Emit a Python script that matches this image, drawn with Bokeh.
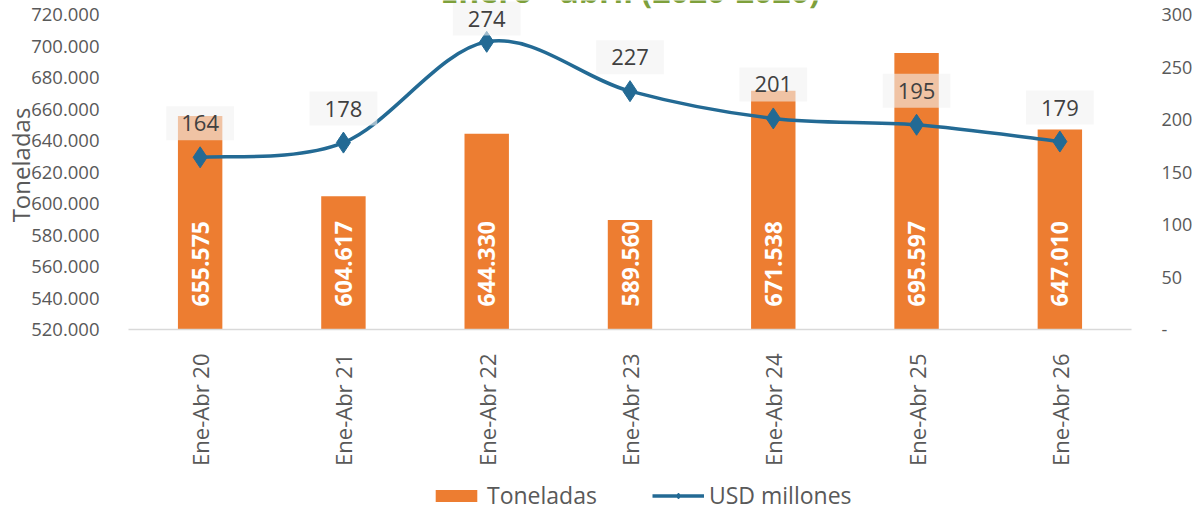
import math
from bokeh.plotting import figure
from bokeh.layouts import column
from bokeh.models import Range1d, LinearAxis, FixedTicker, Legend, LegendItem, Label
from bokeh.core.properties import value
from bokeh.embed import file_html
from bokeh.resources import INLINE

# ---- data ----
categories = ["Ene-Abr 20", "Ene-Abr 21", "Ene-Abr 22", "Ene-Abr 23", "Ene-Abr 24", "Ene-Abr 25", "Ene-Abr 26"]
toneladas = [655575, 604617, 644330, 589560, 671538, 695597, 647010]
usd_millones = [164, 178, 274, 227, 201, 195, 179]
left_ticks = [520000, 540000, 560000, 580000, 600000, 620000, 640000, 660000, 680000, 700000, 720000]
right_ticks = [0, 50, 100, 150, 200, 250, 300]
title_text = "Enero - abril (2020-2026)"

def fmt_es(v):
    return f"{v:,}".replace(",", ".")

ton_labels = [fmt_es(v) for v in toneladas]
usd_labels = [str(v) for v in usd_millones]
left_tick_labels = {t: fmt_es(t) for t in left_ticks}
right_tick_labels = {t: ("-" if t == 0 else str(t)) for t in right_ticks}

# ---- layout constants ----
W = 1195
H_MAIN, H_LEG = 478, 35
FRAME_LEFT = 128
FRAME_TOP_PAD = 14      # px from canvas top to 720.000
PLOT_H = 315            # px from 720.000 to 520.000
FRAME_BOTTOM = FRAME_TOP_PAD + PLOT_H
y0, y1 = 520000, 720000
r0, r1 = 0, 300
y_end = y1 + (y1 - y0) * FRAME_TOP_PAD / PLOT_H
r_end = r1 + (r1 - r0) * FRAME_TOP_PAD / PLOT_H

ORANGE = "#ED7D31"
BLUE = "#236A94"
GRAY_TXT = "#595959"
FONT = "Open Sans"

xs = list(range(len(categories)))

p = figure(width=W, height=H_MAIN, x_range=Range1d(-0.5, len(categories) - 0.5),
           y_range=Range1d(y0, y_end), output_backend="svg", toolbar_location=None,
           min_border_left=FRAME_LEFT, min_border_right=61, min_border_top=0,
           min_border_bottom=H_MAIN - FRAME_BOTTOM)
p.outline_line_color = None
p.grid.visible = False
p.background_fill_color = "white"
p.border_fill_color = "white"

# x axis
xa = p.xaxis[0]
xa.ticker = FixedTicker(ticks=xs)
xa.major_label_overrides = {i: c for i, c in enumerate(categories)}
xa.major_label_orientation = math.pi / 2
xa.major_tick_line_color = None
xa.minor_tick_line_color = None
xa.axis_line_color = "#D9D9D9"
xa.axis_line_width = 1.5
xa.major_label_standoff = 18
xa.major_label_text_font = FONT
xa.major_label_text_font_size = "22px"
xa.major_label_text_color = GRAY_TXT

# left axis
ya = p.yaxis[0]
ya.ticker = FixedTicker(ticks=left_ticks)
ya.major_label_overrides = left_tick_labels
ya.axis_line_color = None
ya.major_tick_line_color = None
ya.minor_tick_line_color = None
ya.major_label_standoff = 23
ya.major_label_text_font = FONT
ya.major_label_text_font_size = "18.5px"
ya.major_label_text_color = GRAY_TXT
ya.axis_label = "Toneladas"
ya.axis_label_text_font = FONT
ya.axis_label_text_font_size = "24px"
ya.axis_label_text_font_style = "normal"
ya.axis_label_text_color = GRAY_TXT
ya.axis_label_standoff = -9

# right axis
p.extra_y_ranges = {"usd": Range1d(r0, r_end)}
ra = LinearAxis(y_range_name="usd", ticker=FixedTicker(ticks=right_ticks),
                major_label_overrides=right_tick_labels)
ra.axis_line_color = None
ra.major_tick_line_color = None
ra.minor_tick_line_color = None
ra.major_label_standoff = 24
ra.major_label_text_font = FONT
ra.major_label_text_font_size = "18px"
ra.major_label_text_color = GRAY_TXT
p.add_layout(ra, "right")

# bars
bars = p.vbar(x=xs, top=toneladas, bottom=y0, width=0.31, fill_color=ORANGE, line_color=None)

# bar labels (inside base, rotated)
p.text(x=xs, y=[y0] * len(xs), text=ton_labels, angle=math.pi / 2, y_offset=-23,
       text_align="left", text_baseline="middle", text_color="white",
       text_font=value(FONT), text_font_size="23px", text_font_style="bold")

# smoothed line (Catmull-Rom style bezier through the data points)
n = len(xs)
bx0, by0, bx1, by1, cx0, cy0, cx1, cy1 = [], [], [], [], [], [], [], []
for i in range(n - 1):
    pa = i - 1 if i > 0 else i
    pd = i + 2 if i + 2 < n else i + 1
    bx0.append(xs[i]); by0.append(usd_millones[i])
    bx1.append(xs[i + 1]); by1.append(usd_millones[i + 1])
    cx0.append(xs[i] + (xs[i + 1] - xs[pa]) / 6)
    cy0.append(usd_millones[i] + (usd_millones[i + 1] - usd_millones[pa]) / 6)
    cx1.append(xs[i + 1] - (xs[pd] - xs[i]) / 6)
    cy1.append(usd_millones[i + 1] - (usd_millones[pd] - usd_millones[i]) / 6)
p.bezier(x0=bx0, y0=by0, x1=bx1, y1=by1, cx0=cx0, cy0=cy0, cx1=cx1, cy1=cy1,
         y_range_name="usd", line_color=BLUE, line_width=3.5)
p.scatter(x=xs, y=usd_millones, marker="diamond", size=21, fill_color=BLUE,
          line_color=BLUE, y_range_name="usd")

# value labels above the points (clamped to stay within the chart top)
px_per_unit = PLOT_H / (r1 - r0)
lbl_off = []
for v in usd_millones:
    sy = FRAME_TOP_PAD + (r1 - v) * px_per_unit
    lbl_off.append(max(-34, 18 - sy))
p.text(x=xs, y=usd_millones, text=usd_labels, y_offset=lbl_off, y_range_name="usd",
       text_align="center", text_baseline="middle", text_color="#404040",
       text_font=value(FONT), text_font_size="22px",
       background_fill_color="#F2F2F2", background_fill_alpha=0.6, padding=(15, 9))

# title (partially cut at the top of the image)
p.add_layout(Label(x=(len(categories) - 1) / 2, y=y1 + (y1 - y0) * 24 / PLOT_H,
                   text=title_text, text_align="center", text_baseline="alphabetic",
                   text_font=FONT, text_font_size="32px", text_font_style="bold",
                   text_color="#7EA03C"))

# ---- legend strip ----
lg = figure(width=W, height=H_LEG, x_range=Range1d(0, 1), y_range=Range1d(0, 1),
            output_backend="svg", toolbar_location=None,
            x_axis_location=None, y_axis_location=None,
            min_border_left=0, min_border_right=0, min_border_top=0, min_border_bottom=0)
lg.outline_line_color = None
lg.grid.visible = False
nan = float("nan")
leg_bar = lg.vbar(x=[nan], top=[nan], bottom=[nan], width=0.1, fill_color=ORANGE, line_color=None)
leg_line = lg.line(x=[nan, nan], y=[nan, nan], line_color=BLUE, line_width=3.5)
leg_pt = lg.scatter(x=[nan], y=[nan], marker="diamond", size=19, fill_color=BLUE, line_color=BLUE)

legend = Legend(items=[LegendItem(label="Toneladas", renderers=[leg_bar]),
                       LegendItem(label="USD millones", renderers=[leg_line, leg_pt])],
                orientation="horizontal", location=(430 - FRAME_LEFT, 2),
                padding=0, margin=0, spacing=55, label_standoff=5,
                glyph_width=52, glyph_height=15, label_height=22,
                label_text_font=FONT, label_text_font_size="23px", label_text_color=GRAY_TXT,
                border_line_color=None, background_fill_alpha=0)
lg.add_layout(legend, "center")

layout = column(p, lg, spacing=0)
open("out.html", "w").write(file_html(layout, INLINE))
